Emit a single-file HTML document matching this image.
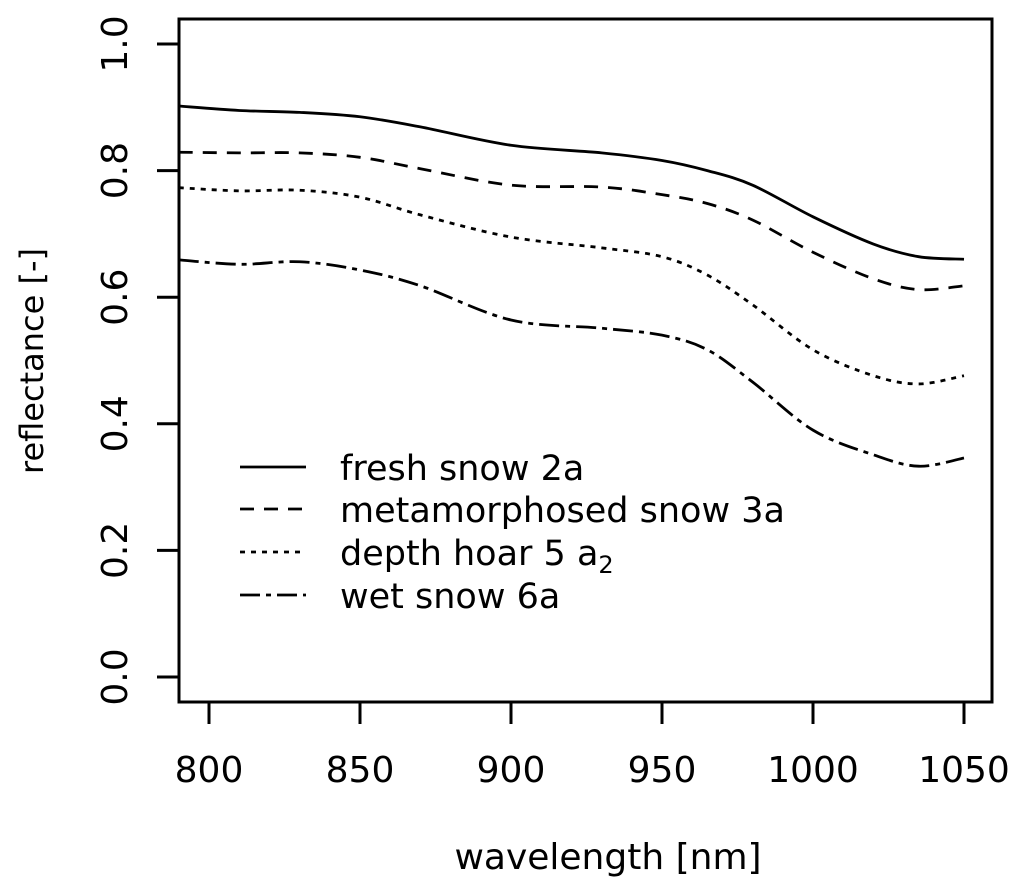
<!DOCTYPE html>
<html><head><meta charset="utf-8"><style>
html,body{margin:0;padding:0;background:#fff}
svg text{font-family:"DejaVu Sans","Liberation Sans",sans-serif;fill:#000}
</style></head><body>
<svg id="chart" width="1024" height="890" viewBox="0 0 1024 890" xmlns="http://www.w3.org/2000/svg"></svg>
<script>
const wl = [790,810,830,850,870,900,930,950,965,980,1000,1020,1035,1050];
const freshSnow = [0.902,0.895,0.892,0.885,0.869,0.840,0.828,0.816,0.800,0.777,0.727,0.684,0.664,0.660];
const metaSnow = [0.829,0.828,0.828,0.821,0.803,0.777,0.774,0.762,0.748,0.722,0.671,0.629,0.612,0.618];
const depthHoar = [0.773,0.768,0.769,0.758,0.730,0.695,0.678,0.664,0.635,0.588,0.517,0.476,0.463,0.476];
const wetSnow = [0.659,0.652,0.656,0.643,0.618,0.564,0.551,0.540,0.517,0.466,0.390,0.351,0.333,0.346];
const xTicks = [800,850,900,950,1000,1050];
const yTicks = [0.0,0.2,0.4,0.6,0.8,1.0];
const yTickLabels = ["0.0","0.2","0.4","0.6","0.8","1.0"];
const seriesNames = ["fresh snow 2a","metamorphosed snow 3a","depth hoar 5a2","wet snow 6a"];

const NS="http://www.w3.org/2000/svg";
const svg=document.getElementById('chart');
const L=179,R=992,T=19,B=702;
const xs=w=>209+(w-800)*(755/250);
const ys=v=>677-v*633;
function mk(tag,attrs,parent){const e=document.createElementNS(NS,tag);for(const k in attrs)e.setAttribute(k,attrs[k]);(parent||svg).appendChild(e);return e;}

const frame=mk('rect',{x:L,y:T,width:R-L,height:B-T,fill:'none',stroke:'#000','stroke-width':3});



xTicks.forEach(t=>{
  const l=mk('line',{x1:xs(t),x2:xs(t),y1:B,y2:B+22,stroke:'#000','stroke-width':3});
  
  
  const tx=mk('text',{x:xs(t),y:782,'text-anchor':'middle','font-size':36});
  tx.textContent=t;
  
  
});
yTicks.forEach((t,i)=>{
  const l=mk('line',{x1:L-22,x2:L,y1:ys(t),y2:ys(t),stroke:'#000','stroke-width':3});
  
  
  const tx=mk('text',{x:0,y:0,'text-anchor':'middle','font-size':36,transform:`translate(127,${ys(t)}) rotate(-90)`});
  tx.textContent=yTickLabels[i];
  
  
});
const xt=mk('text',{x:608,y:869,'text-anchor':'middle','font-size':36});
xt.textContent='wavelength [nm]';


const yt=mk('text',{x:0,y:0,'text-anchor':'middle','font-size':32,transform:'translate(43,361) rotate(-90)'});
yt.textContent='reflectance [-]';



function smooth(pts){
  let d=`M${pts[0][0]},${pts[0][1]}`;
  for(let i=0;i<pts.length-1;i++){
    const p0=pts[Math.max(0,i-1)],p1=pts[i],p2=pts[i+1],p3=pts[Math.min(pts.length-1,i+2)];
    d+=` C${p1[0]+(p2[0]-p0[0])/6},${p1[1]+(p2[1]-p0[1])/6} ${p2[0]-(p3[0]-p1[0])/6},${p2[1]-(p3[1]-p1[1])/6} ${p2[0]},${p2[1]}`;
  }
  return d;
}
const dashes=['none','14,10','5,6','20,6,5,6'];
const names=['fresh-snow-line','metamorphosed-snow-line','depth-hoar-line','wet-snow-line'];
[freshSnow,metaSnow,depthHoar,wetSnow].forEach((s,k)=>{
  const p=mk('path',{d:smooth(s.map((v,i)=>[xs(wl[i]),ys(v)])),fill:'none',stroke:'#000','stroke-width':2.8,'stroke-dasharray':dashes[k]});
  
  
});

const legY=[467,509,552,595];
const legG=mk('g',{});


legY.forEach((y,k)=>{
  const l=mk('line',{x1:240,x2:306,y1:y,y2:y,stroke:'#000','stroke-width':2.8,'stroke-dasharray':dashes[k]},legG);
  
  
  const t=mk('text',{x:340,y:y+13,'font-size':35},legG);
  if(k===2){
    t.textContent='depth hoar 5 a';
    const sub=mk('tspan',{'font-size':24,dy:8},t);
    sub.textContent='2';
  } else t.textContent=seriesNames[k];
  
  
});
</script>
</body></html>
